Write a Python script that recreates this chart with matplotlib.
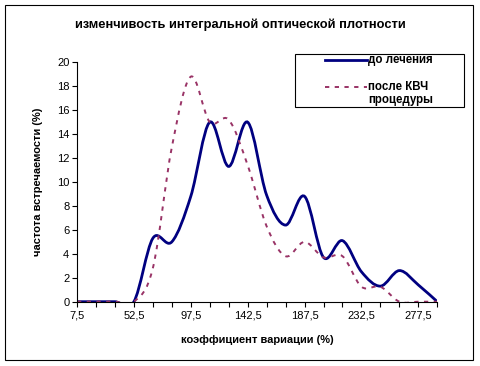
import numpy as np
import matplotlib
matplotlib.use("Agg")
import matplotlib.pyplot as plt
from matplotlib.path import Path
from matplotlib.patches import PathPatch, Rectangle
from matplotlib.lines import Line2D

# data
cv = [7.5, 22.5, 37.5, 52.5, 67.5, 82.5, 97.5, 112.5, 127.5, 142.5,
      157.5, 172.5, 187.5, 202.5, 217.5, 232.5, 247.5, 262.5, 277.5, 292.5]
before = [0, 0, 0, 0, 5.3, 5.0, 8.8, 15.0, 11.3, 15.0,
          8.9, 6.4, 8.8, 3.7, 5.1, 2.5, 1.3, 2.6, 1.4, 0]
after = [0, 0, 0, 0, 2.8, 12.9, 18.8, 15.0, 15.2, 11.4,
         6.3, 3.8, 5.0, 3.7, 3.8, 1.25, 1.25, 0, 0, 0]
xtick_labels = ["7,5", "52,5", "97,5", "142,5", "187,5", "232,5", "277,5"]

FONT = "Liberation Sans"
BLUE = "#000080"
PLUM = "#993366"


def smooth_path(xs, ys):
    # Excel-like smoothed line: cubic bezier with catmull-rom tangents
    pts = np.column_stack([xs, ys]).astype(float)
    n = len(pts)
    verts = [pts[0]]
    codes = [Path.MOVETO]
    for i in range(n - 1):
        p0 = pts[max(i - 1, 0)]
        p1 = pts[i]
        p2 = pts[i + 1]
        p3 = pts[min(i + 2, n - 1)]
        verts += [p1 + (p2 - p0) / 6, p2 - (p3 - p1) / 6, p2]
        codes += [Path.CURVE4] * 3
    return Path(verts, codes)


fig = plt.figure(figsize=(4.81, 3.66), dpi=100)
fig.patches.append(Rectangle((5 / 481, 1 - 360 / 366), 468 / 481, 355 / 366,
                             transform=fig.transFigure, fill=False,
                             edgecolor="black", linewidth=0.8))

ax = fig.add_axes([77 / 481, 1 - 301.7 / 366, 360.3 / 481, 239.4 / 366])
ax.add_patch(PathPatch(smooth_path(cv, before), fill=False, edgecolor=BLUE,
                       linewidth=2.0, capstyle="butt"))
ax.add_patch(PathPatch(smooth_path(cv, after), fill=False, edgecolor=PLUM,
                       linewidth=1.4, linestyle=(0, (2.2, 2.8)), capstyle="butt"))

ax.set_xlim(7.5, 292.5)
ax.set_ylim(0, 20)
ax.set_xticks(cv)
ax.set_xticklabels([xtick_labels[i // 3] if i % 3 == 0 else "" for i in range(len(cv))])
ax.set_yticks(np.arange(0, 21, 2))
ax.spines["top"].set_visible(False)
ax.spines["right"].set_visible(False)
for s in ("left", "bottom"):
    ax.spines[s].set_linewidth(0.8)
ax.tick_params(direction="out", length=3.5, width=0.8)
ax.tick_params(axis="y", pad=2)
ax.tick_params(axis="x", pad=3)
for lab in ax.get_xticklabels() + ax.get_yticklabels():
    lab.set_fontfamily(FONT)
    lab.set_fontsize(8)

ax.set_xlabel("коэффициент вариации (%)", fontfamily=FONT, fontsize=8,
              fontweight="bold", labelpad=10)
ax.set_ylabel("частота встречаемости (%)", fontfamily=FONT, fontsize=8,
              fontweight="bold", labelpad=10)
fig.text(240 / 481, 1 - 25 / 366, "изменчивость интегральной оптической плотности",
         ha="center", va="center", fontfamily=FONT, fontsize=9.3, fontweight="bold")

# legend box
fig.patches.append(Rectangle((295 / 481, 1 - 107 / 366), 169 / 481, 53 / 366,
                             transform=fig.transFigure, fill=True, facecolor="white",
                             edgecolor="black", linewidth=0.8, zorder=5))
fig.lines.append(Line2D([325 / 481, 367 / 481], [1 - 60 / 366] * 2,
                        transform=fig.transFigure, color=BLUE, linewidth=2.0, zorder=6))
fig.lines.append(Line2D([325 / 481, 367 / 481], [1 - 87 / 366] * 2,
                        transform=fig.transFigure, color=PLUM, linewidth=1.4,
                        dashes=(2.2, 2.8), zorder=6))
fig.text(368 / 481, 1 - 60 / 366, "до лечения", ha="left", va="center",
         fontfamily=FONT, fontsize=8.3, fontweight="bold", zorder=6)
fig.text(368 / 481, 1 - 87 / 366, "после КВЧ", ha="left", va="center",
         fontfamily=FONT, fontsize=8.3, fontweight="bold", zorder=6)
fig.text(368 / 481, 1 - 99.5 / 366, "процедуры", ha="left", va="center",
         fontfamily=FONT, fontsize=8.3, fontweight="bold", zorder=6)

fig.savefig("out.png", dpi=100)
